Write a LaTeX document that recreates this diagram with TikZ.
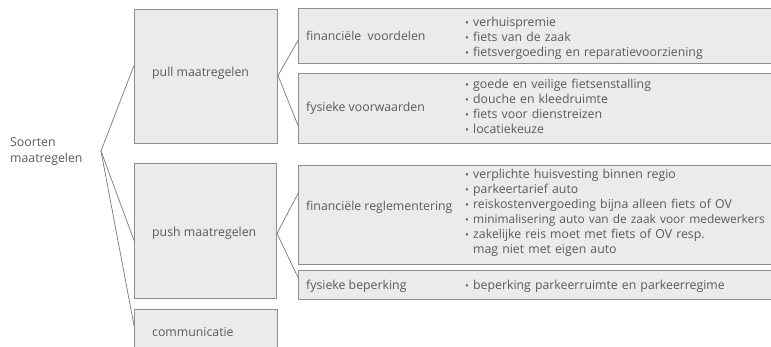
\documentclass[tikz,border=0pt]{standalone}
\usepackage{fontspec}
\setmainfont{Open Sans}
\definecolor{boxfill}{HTML}{EBEBEB}
\definecolor{boxline}{HTML}{8E8E8E}
\definecolor{txt}{HTML}{5A5A5A}
\definecolor{conn}{HTML}{7A7A7A}
\newcommand{\bul}{\makebox[8pt][l]{\raisebox{0.05ex}{\fontsize{10}{10}\selectfont •}}}
\newcommand{\bulsp}{\hspace*{8pt}}
\begin{document}
\begin{tikzpicture}[x=1pt,y=-1pt,
  box/.style={draw=boxline, fill=boxfill, line width=1pt, anchor=north west, inner sep=0pt},
  lbl/.style={anchor=base west, inner sep=0pt, text=txt, font=\fontsize{12.3}{15}\selectfont},
  lst/.style={anchor=base west, inner sep=0pt, text=txt, text width=320pt, align=left, font=\fontsize{12.3}{15}\selectfont},
  conn/.style={draw=conn, line width=0.7pt}]
\useasboundingbox (0,0) rectangle (771,347);
\clip (0,0) rectangle (771,347);
\fill[white] (0,0) rectangle (771,347);
% first level boxes
\node[box, minimum width=143pt, minimum height=134pt] (pull) at (134,9) {};
\node[box, minimum width=142pt, minimum height=135pt] (push) at (134,163) {};
\node[box, minimum width=143pt, minimum height=50pt] (comm) at (134,309) {};
% second level boxes
\node[box, minimum width=490pt, minimum height=55pt] (finv) at (298,8) {};
\node[box, minimum width=490pt, minimum height=70pt] (fysv) at (298,73) {};
\node[box, minimum width=490pt, minimum height=99pt] (finr) at (298,165) {};
\node[box, minimum width=490pt, minimum height=29pt] (fysb) at (298,270) {};
% labels
\node[lbl] (soorten) at (10,147) {Soorten};
\node[lbl] (soorten2) at (10,163) {maatregelen};
\node[lbl] (pulltxt) at (152,77) {pull maatregelen};
\node[lbl] (pushtxt) at (152,237) {push maatregelen};
\node[lbl] (commtxt) at (152,337) {communicatie};
\node[lbl] (finvtxt) at (306,41) {financiële\ \ voordelen};
\node[lbl] (fysvtxt) at (306,112) {fysieke voorwaarden};
\node[lbl] (finrtxt) at (306,211) {financiële reglementering};
\node[lbl] (fysbtxt) at (306,290) {fysieke beperking};
% lists
\node[lst] (finvlist) at (465,27) {\bul verhuispremie\\ \bul fiets van de zaak\\ \bul fietsvergoeding en reparatievoorziening};
\node[lst] (fysvlist) at (465,89) {\bul goede en veilige fietsenstalling\\ \bul douche en kleedruimte\\ \bul fiets voor dienstreizen\\ \bul locatiekeuze};
\node[lst] (finrlist) at (465,179) {\bul verplichte huisvesting binnen regio\\ \bul parkeertarief auto\\ \bul reiskostenvergoeding bijna alleen fiets of OV\\ \bul {\fontsize{11.9}{15}\selectfont minimalisering auto van de zaak voor medewerkers}\\ \bul zakelijke reis moet met fiets of OV resp.\\ \bulsp mag niet met eigen auto};
\node[lst] (fysblist) at (465,290) {\bul beperking parkeerruimte en parkeerregime};
% connectors
\coordinate (root) at (101,151);
\draw[conn] (root) -- ([yshift=11pt]pull.west);
\draw[conn] (root) -- ([yshift=-9.5pt]push.west);
\draw[conn] (root) -- ([yshift=9pt]comm.west);
\draw[conn] ([yshift=1pt]pull.east) -- ([yshift=-4.5pt]finv.west);
\draw[conn] ([yshift=1pt]pull.east) -- ([yshift=-17pt]fysv.west);
\draw[conn] ([yshift=-2.5pt]push.east) -- ([yshift=21.5pt]finr.west);
\draw[conn] ([yshift=-2.5pt]push.east) -- ([yshift=7.5pt]fysb.west);
\end{tikzpicture}
\end{document}
